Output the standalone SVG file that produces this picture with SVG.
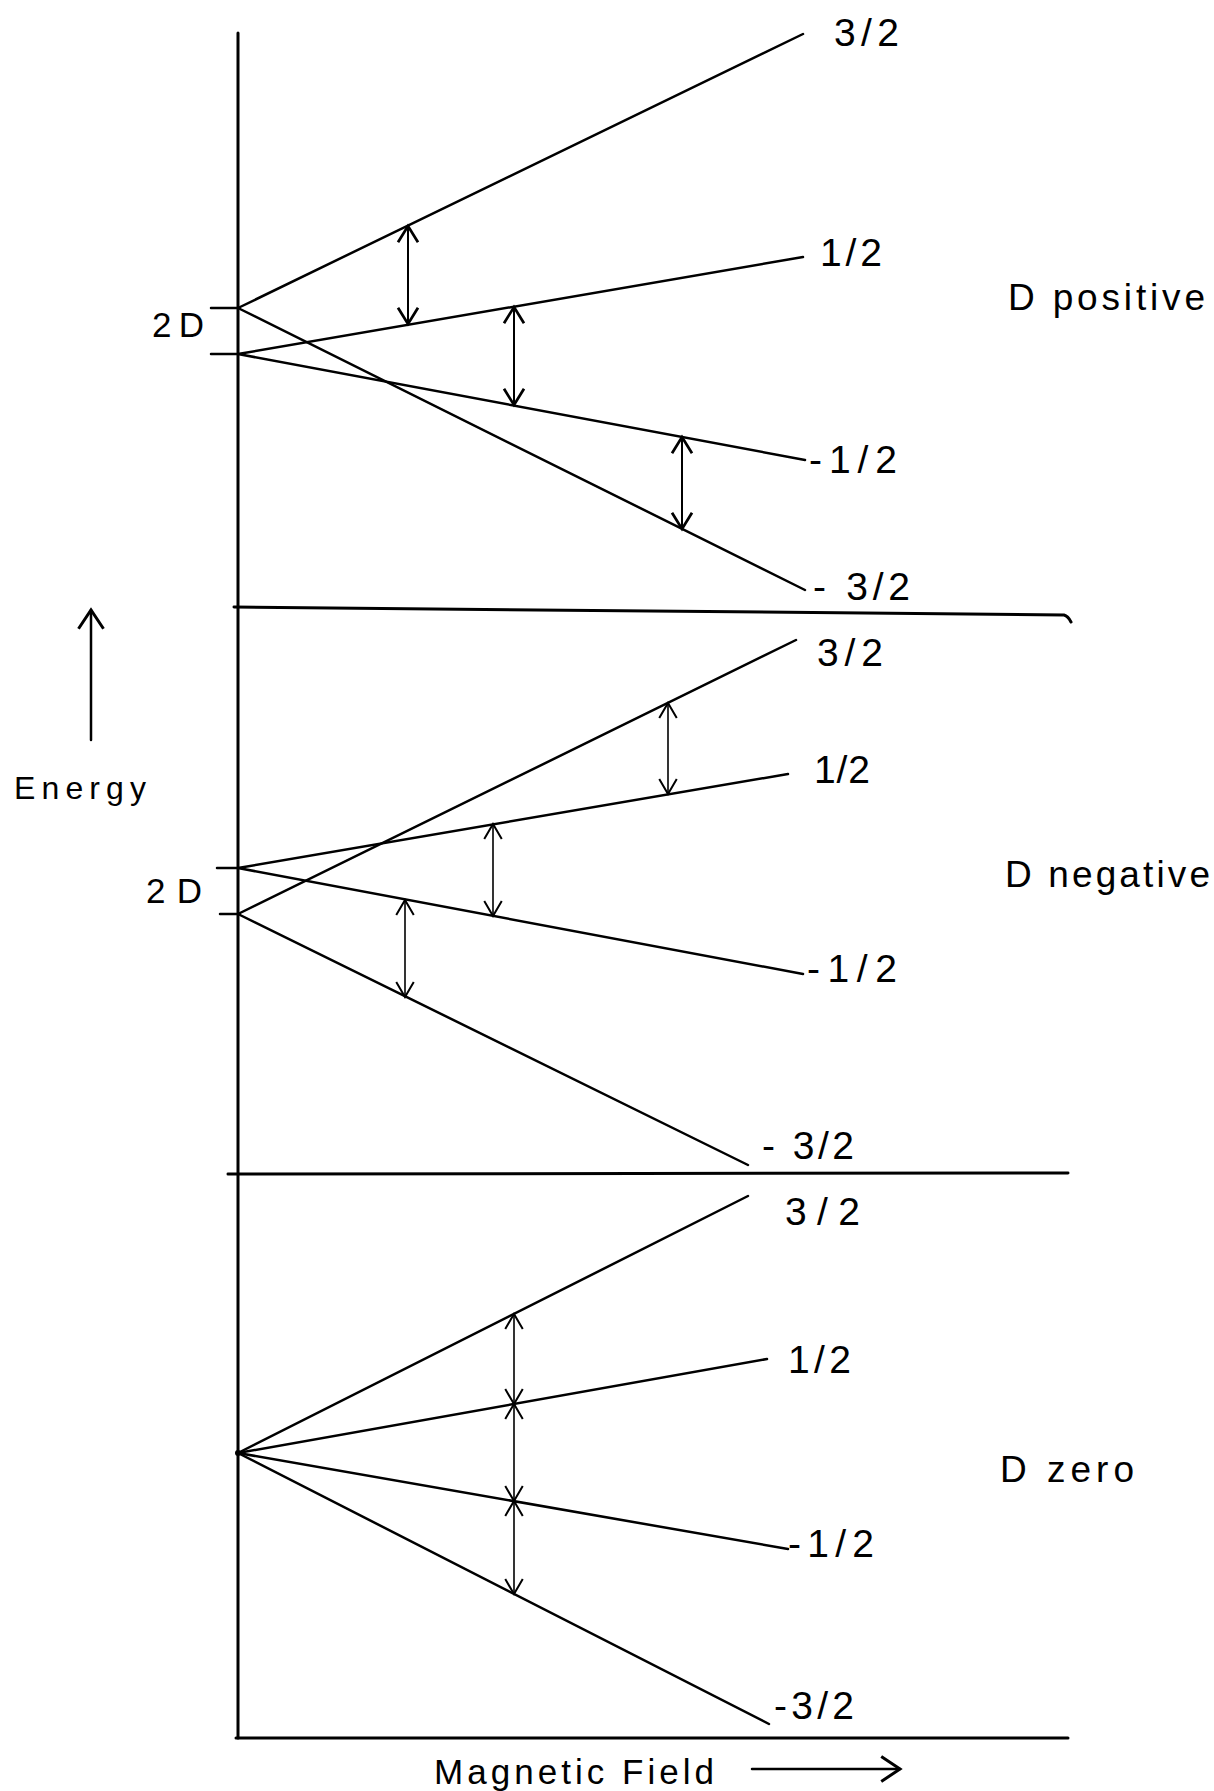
<svg xmlns="http://www.w3.org/2000/svg" width="1214" height="1791" viewBox="0 0 1214 1791">
<defs>
<style>
.ax{stroke:#000;stroke-width:3;fill:none;stroke-linecap:round}
.lv{stroke:#000;stroke-width:2.5;fill:none;stroke-linecap:round}
.tr{stroke:#000;stroke-width:2;fill:none;marker-start:url(#ah);marker-end:url(#ah)}
.tr2{stroke:#000;stroke-width:1.6;fill:none;marker-start:url(#ah2);marker-end:url(#ah2)}
text{font-family:"Liberation Sans",Arial,sans-serif;font-size:39px;fill:#000}
.big{font-size:37px}
.dd{font-size:35px}
</style>
<marker id="ah" markerUnits="userSpaceOnUse" markerWidth="30" markerHeight="30" viewBox="-16 -12 20 24" refX="0" refY="0" orient="auto-start-reverse">
<path d="M-13,-8 L0,0 L-13,8" fill="none" stroke="#000" stroke-width="2.2"/>
</marker>
<marker id="ah2" markerUnits="userSpaceOnUse" markerWidth="30" markerHeight="30" viewBox="-16 -12 20 24" refX="0" refY="0" orient="auto-start-reverse">
<path d="M-12,-7 L0,0 L-12,7" fill="none" stroke="#000" stroke-width="1.6"/>
</marker>
<marker id="open" markerUnits="userSpaceOnUse" markerWidth="30" markerHeight="30" viewBox="-16 -12 20 24" refX="0" refY="0" orient="auto">
<path d="M-15,-10 L0,0 L-15,10" fill="none" stroke="#000" stroke-width="2.4"/>
</marker>
</defs>

<g id="axes">
<line class="ax" x1="238" y1="33" x2="238" y2="1738"/>
<line class="ax" x1="236" y1="1738" x2="1068" y2="1738"/>
<path class="ax" d="M234,607 L1064,615 Q1068,616 1071,622"/>
<line class="ax" x1="228" y1="1174" x2="1068" y2="1173"/>
</g>

<g id="energy-axis">
<line class="lv" x1="91" y1="740" x2="91" y2="610" marker-end="url(#open)"/>
<text x="14" y="799" textLength="132" lengthAdjust="spacing" style="font-size:32px">Energy</text>
</g>

<g id="field-axis">
<line class="lv" x1="752" y1="1769" x2="900" y2="1769" marker-end="url(#open)"/>
<text x="434" y="1784" textLength="280" lengthAdjust="spacing" style="font-size:35px">Magnetic Field</text>
</g>

<g id="panel-positive">
<line class="lv" x1="211" y1="308" x2="238" y2="308"/>
<line class="lv" x1="211" y1="354" x2="238" y2="354"/>
<text class="dd" x="152" y="337" textLength="52" lengthAdjust="spacing">2 D</text>
<line class="lv" x1="238" y1="308" x2="803" y2="34"/>
<line class="lv" x1="238" y1="354" x2="803" y2="257"/>
<line class="lv" x1="238" y1="354" x2="805" y2="460"/>
<line class="lv" x1="238" y1="308" x2="805" y2="590"/>
<text x="834" y="46" textLength="65" lengthAdjust="spacing">3/2</text>
<text x="820" y="266" textLength="62" lengthAdjust="spacing">1/2</text>
<text x="809" y="473" textLength="88" lengthAdjust="spacing">-1/2</text>
<text x="813" y="600" textLength="97" lengthAdjust="spacing">- 3/2</text>
<text class="big" x="1008" y="310" textLength="197" lengthAdjust="spacing">D positive</text>
</g>

<g id="panel-negative">
<line class="lv" x1="217" y1="868" x2="238" y2="868"/>
<line class="lv" x1="220" y1="914" x2="238" y2="914"/>
<text class="dd" x="146" y="903" textLength="56" lengthAdjust="spacing">2 D</text>
<line class="lv" x1="238" y1="914" x2="796" y2="640"/>
<line class="lv" x1="238" y1="868" x2="788" y2="774"/>
<line class="lv" x1="238" y1="868" x2="803" y2="974"/>
<line class="lv" x1="238" y1="914" x2="748" y2="1165"/>
<text x="817" y="666" textLength="66" lengthAdjust="spacing">3/2</text>
<text x="814" y="783" textLength="56" lengthAdjust="spacing">1/2</text>
<text x="807" y="982" textLength="90" lengthAdjust="spacing">-1/2</text>
<text x="762" y="1159" textLength="92" lengthAdjust="spacing">- 3/2</text>
<text class="big" x="1005" y="887" textLength="205" lengthAdjust="spacing">D negative</text>
</g>

<g id="panel-zero">
<circle cx="238" cy="1453" r="3" fill="#000"/>
<line class="lv" x1="238" y1="1453" x2="748" y2="1196"/>
<line class="lv" x1="238" y1="1453" x2="767" y2="1359"/>
<line class="lv" x1="238" y1="1453" x2="788" y2="1549"/>
<line class="lv" x1="238" y1="1453" x2="769" y2="1724"/>
<text x="785" y="1225" textLength="75" lengthAdjust="spacing">3/2</text>
<text x="788" y="1373" textLength="63" lengthAdjust="spacing">1/2</text>
<text x="788" y="1557" textLength="86" lengthAdjust="spacing">-1/2</text>
<text x="774" y="1719" textLength="80" lengthAdjust="spacing">-3/2</text>
<text class="big" x="1000" y="1482" textLength="134" lengthAdjust="spacing">D zero</text>
</g>

<g id="connectors">
<line class="tr" x1="408" y1="226" x2="408" y2="324"/>
<line class="tr" x1="514" y1="307" x2="514" y2="405"/>
<line class="tr" x1="682" y1="437" x2="682" y2="529"/>
<line class="tr2" x1="668" y1="703" x2="668" y2="794"/>
<line class="tr2" x1="493" y1="824" x2="493" y2="916"/>
<line class="tr2" x1="405" y1="900" x2="405" y2="997"/>
<line class="tr2" x1="514" y1="1314" x2="514" y2="1404"/>
<line class="tr2" x1="514" y1="1404" x2="514" y2="1501"/>
<line class="tr2" x1="514" y1="1501" x2="514" y2="1594"/>
</g>
</svg>
